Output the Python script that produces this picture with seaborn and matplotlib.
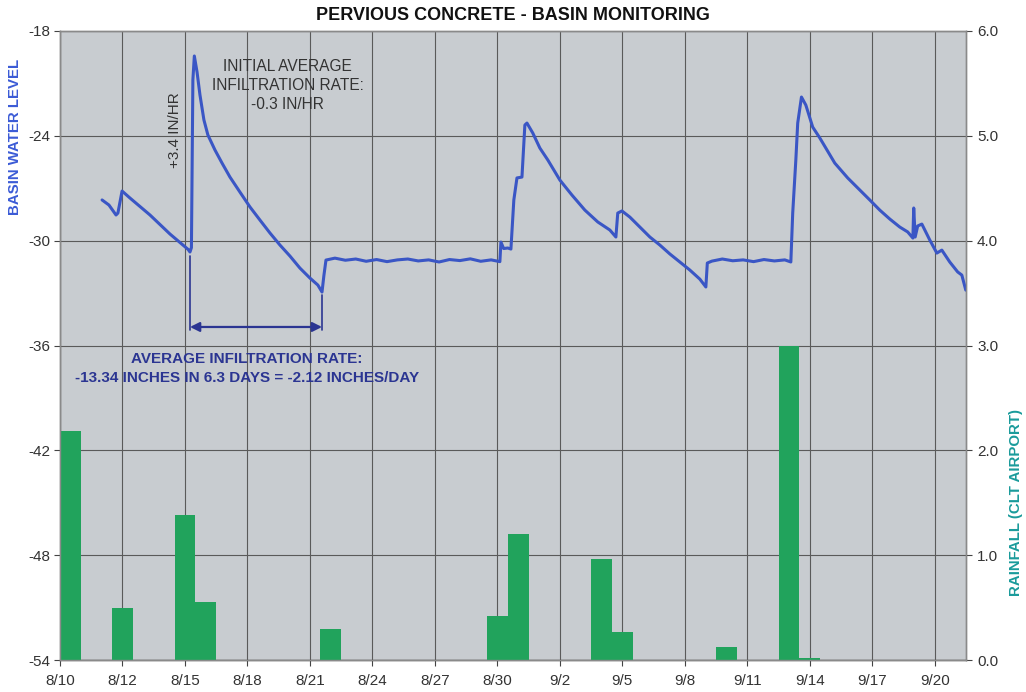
import matplotlib
matplotlib.use("Agg")
import matplotlib.pyplot as plt
import numpy as np
import pandas as pd
import seaborn as sns

# ---------------- data ----------------
title = "PERVIOUS CONCRETE - BASIN MONITORING"
date_labels = ['8/10', '8/12', '8/15', '8/18', '8/21', '8/24', '8/27', '8/30',
               '9/2', '9/5', '9/8', '9/11', '9/14', '9/17', '9/20']

# basin water level (days since start of axis, level in inches)
level_day = [2.02, 2.35, 2.69, 2.78, 2.98, 3.36, 4.32, 5.28, 6.15, 6.24,
             6.31, 6.38, 6.45, 6.58, 6.72, 6.91, 7.10, 7.44, 7.78, 8.16,
             8.64, 9.12, 9.60, 10.08, 10.56, 11.04, 11.52, 12.00, 12.38, 12.58,
             12.67, 12.77, 13.2, 13.7, 14.2, 14.7, 15.2, 15.7, 16.2, 16.7,
             17.2, 17.7, 18.2, 18.7, 19.2, 19.7, 20.2, 20.7, 21.12, 21.17,
             21.30, 21.50, 21.65, 21.79, 21.94, 22.18, 22.32, 22.42, 22.70, 23.04,
             23.42, 24.00, 24.58, 25.20, 25.82, 26.40, 26.69, 26.78, 26.98, 27.36,
             27.84, 28.32, 28.80, 29.28, 29.76, 30.24, 30.72, 31.01, 31.08, 31.30,
             31.8, 32.3, 32.8, 33.3, 33.8, 34.3, 34.8, 35.09, 35.18, 35.33,
             35.42, 35.60, 35.81, 36.14, 36.48, 37.20, 37.82, 38.40, 38.88, 39.36,
             39.84, 40.32, 40.70, 40.95, 40.99, 41.06, 41.18, 41.38, 41.76, 42.10,
             42.34, 42.72, 43.10, 43.30, 43.49]
level_val = [-27.67, -27.96, -28.53, -28.42, -27.16, -27.56, -28.53, -29.62, -30.50, -30.65,
             -30.40, -20.80, -19.43, -20.35, -21.66, -23.09, -23.95, -24.81, -25.56, -26.36,
             -27.22, -28.07, -28.82, -29.56, -30.25, -30.88, -31.57, -32.14, -32.54, -32.94,
             -32.00, -31.11, -31.00, -31.12, -31.05, -31.18, -31.08, -31.20, -31.10, -31.05,
             -31.16, -31.10, -31.22, -31.08, -31.14, -31.04, -31.18, -31.10, -31.20, -30.08,
             -30.45, -30.42, -30.48, -27.67, -26.41, -26.36, -23.38, -23.27, -23.84, -24.70,
             -25.38, -26.53, -27.39, -28.25, -28.93, -29.39, -29.79, -28.42, -28.30, -28.65,
             -29.22, -29.79, -30.25, -30.76, -31.22, -31.68, -32.20, -32.65, -31.28, -31.17,
             -31.05, -31.15, -31.10, -31.20, -31.08, -31.16, -31.10, -31.22, -28.42, -25.38,
             -23.27, -21.78, -22.24, -23.50, -24.12, -25.56, -26.41, -27.10, -27.67, -28.25,
             -28.76, -29.22, -29.50, -29.85, -28.13, -29.79, -29.16, -29.05, -29.96, -30.71,
             -30.54, -31.22, -31.79, -31.97, -32.83]

# rainfall (CLT airport), inches per day
rain_day = [0.5, 3, 6, 7, 13, 21, 22, 26, 27, 32, 35, 36]
rain_val = [2.18, 0.50, 1.38, 0.55, 0.30, 0.42, 1.20, 0.96, 0.27, 0.12, 3.00, 0.02]

# annotation values
arrow_start, arrow_end = 6.24, 12.58

# ---------------- style ----------------
sns.set_style("white")
plt.rcParams['font.family'] = ['Liberation Sans', 'DejaVu Sans']

bg = '#c8ccd0'
line_c = '#3a56c5'
bar_c = '#21a35c'
dark_blue = '#2b3592'
txt_c = '#333333'

fig = plt.figure(figsize=(10.26, 6.92), dpi=100)
ax = fig.add_axes([60 / 1026, 32 / 692, 906 / 1026, 629 / 692])
ax.set_facecolor(bg)

level_df = pd.DataFrame({'day': level_day, 'level': level_val})
rain_df = pd.DataFrame({'day': rain_day, 'rain': rain_val})

sns.lineplot(data=level_df, x='day', y='level', ax=ax, color=line_c,
             linewidth=2.2, sort=False, estimator=None, zorder=5)

ax2 = ax.twinx()
sns.barplot(data=rain_df, x='day', y='rain', ax=ax2, native_scale=True,
            color=bar_c, saturation=1, width=1.0, linewidth=0, orient='x')

xt = np.arange(0, 3 * len(date_labels), 3)
for a in (ax, ax2):
    a.set_xlim(0, 43.5)
ax.set_xticks(xt)
ax.set_xticklabels(date_labels)
ax.set_ylim(-54, -18)
ax.set_yticks(np.arange(-54, -17, 6))
ax.set_yticklabels([str(v) for v in range(-54, -17, 6)])
ax2.set_ylim(0, 6)
ax2.set_yticks(np.arange(0, 6.1, 1))
ax2.set_yticklabels([f"{v:.1f}" for v in np.arange(0, 6.1, 1)])

ax.grid(True, color='#5a5a5a', linewidth=0.8)
ax.set_axisbelow(True)
ax2.grid(False)
ax.set_xlabel('')
ax.set_ylabel('')
ax2.set_xlabel('')
ax2.set_ylabel('')

ax.tick_params(axis='x', direction='out', length=4, width=0.8, color='#444',
               labelsize=11, labelcolor=txt_c, pad=6, bottom=True)
ax.tick_params(axis='y', direction='out', length=4, width=0.8, color='#444',
               labelsize=11, labelcolor=txt_c, pad=3, left=True)
ax2.tick_params(axis='y', direction='out', length=4, width=0.8, color='#444',
                labelsize=11, labelcolor=txt_c, pad=4, right=True)

for a in (ax, ax2):
    for s in a.spines.values():
        s.set_color('#8a8a8a')
        s.set_linewidth(1.0)
ax.spines['bottom'].set_color('#444444')
ax.spines['left'].set_color('#777777')

# ---------------- texts ----------------
fig.text(0.5, 1 - 15 / 692, title, ha='center', va='center',
         fontsize=13, fontweight='bold', color='#111111')
fig.text(15 / 1026, 1 - 137 / 692, 'BASIN WATER LEVEL', rotation=90,
         ha='center', va='center', fontsize=10.8, fontweight='bold', color='#3b5bd6')
fig.text(1016 / 1026, 1 - 502 / 692, 'RAINFALL (CLT AIRPORT)', rotation=90,
         ha='center', va='center', fontsize=10.8, fontweight='bold', color='#1a9b9b')

ax.text(10.94, -19.6, 'INITIAL AVERAGE\nINFILTRATION RATE:\n-0.3 IN/HR',
        ha='center', va='top', fontsize=11.2, color=txt_c, linespacing=1.35,
        zorder=6)
ax.text(5.52, -23.67, '+3.4 IN/HR', rotation=90, ha='center', va='center',
        fontsize=11, color=txt_c, zorder=6)

ax.plot([arrow_start, arrow_start], [-30.9, -35.1], color=dark_blue, lw=1.2, zorder=6)
ax.plot([arrow_end, arrow_end], [-33.1, -35.1], color=dark_blue, lw=1.2, zorder=6)
ax.annotate('', xy=(arrow_start, -34.94), xytext=(arrow_end, -34.94),
            arrowprops=dict(arrowstyle='<|-|>', color=dark_blue, lw=1.6,
                            mutation_scale=14, shrinkA=0, shrinkB=0), zorder=6)
ax.text(8.98, -36.35, 'AVERAGE INFILTRATION RATE:\n-13.34 INCHES IN 6.3 DAYS = -2.12 INCHES/DAY',
        ha='center', va='top', fontsize=11, fontweight='bold', color=dark_blue,
        linespacing=1.45, zorder=6)

fig.savefig('out.png', dpi=100)
